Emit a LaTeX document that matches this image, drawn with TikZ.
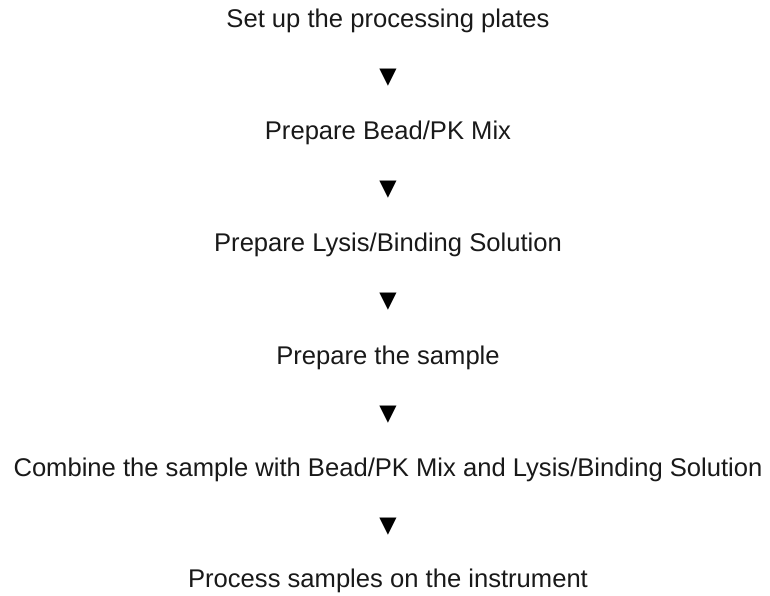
\documentclass[tikz,border=0pt]{standalone}
\usepackage{fontspec}
\setmainfont{Liberation Sans}
\newfontfamily\symfont{DejaVu Sans}
\begin{document}
\begin{tikzpicture}[x=1pt,y=1pt,
  steptext/.style={anchor=base, inner sep=0pt, font=\fontsize{25.6}{30}\selectfont, text=black!90},
  arrowglyph/.style={anchor=base, inner sep=0pt, font=\symfont\fontsize{22.5}{26}\selectfont, text=black}]
\useasboundingbox (0,0) rectangle (770,596);
\node[steptext] (s1) at (388,596-28) {Set up the processing plates};
\node[arrowglyph] (t1) at (388,596-83.2) {▼};
\node[steptext] (s2) at (388,596-139.4) {Prepare Bead/PK Mix};
\node[arrowglyph] (t2) at (388,596-195.6) {▼};
\node[steptext] (s3) at (388,596-251.8) {Prepare Lysis/Binding Solution};
\node[arrowglyph] (t3) at (388,596-308) {▼};
\node[steptext] (s4) at (388,596-364.2) {Prepare the sample};
\node[arrowglyph] (t4) at (388,596-420.4) {▼};
\node[steptext] (s5) at (388,596-476.6) {Combine the sample with Bead/PK Mix and Lysis/Binding Solution};
\node[arrowglyph] (t5) at (388,596-532.8) {▼};
\node[steptext] (s6) at (388,596-588) {Process samples on the instrument};
\end{tikzpicture}
\end{document}
